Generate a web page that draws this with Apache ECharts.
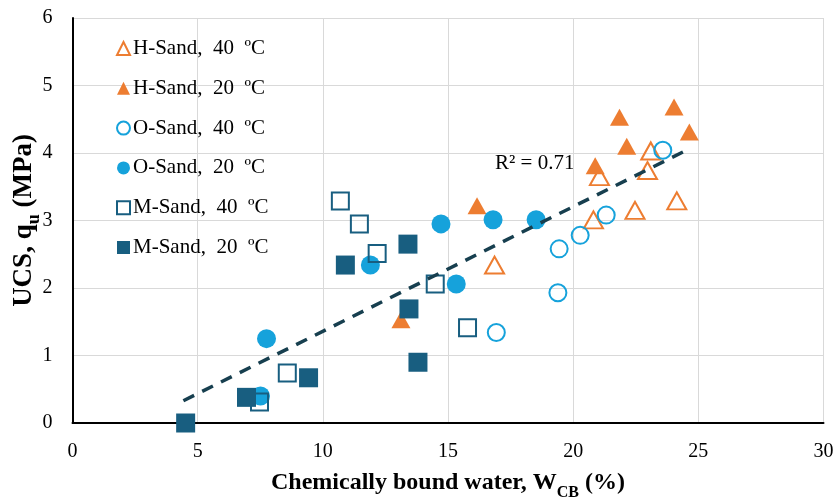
<!DOCTYPE html>
<html>
<head>
<meta charset="utf-8">
<script src="https://cdn.jsdelivr.net/npm/echarts@6/dist/echarts.min.js"></script>
<style>
html,body{margin:0;padding:0;background:#fff;}
#chart{width:837px;height:501px;}
</style>
</head>
<body>
<div id="chart"></div>
<script>
// ---- data ----
const hSand40X = [23.10, 22.97, 21.05, 24.14, 22.47, 20.81, 16.86];
const hSand40Y = [4.03, 3.74, 3.65, 3.29, 3.15, 3.01, 2.34];
const hSand20X = [21.85, 24.03, 24.64, 22.14, 20.88, 16.16, 13.12];
const hSand20Y = [4.53, 4.68, 4.31, 4.10, 3.81, 3.22, 1.53];
const oSand40X = [23.58, 21.32, 20.28, 19.44, 19.39, 16.93];
const oSand40Y = [4.04, 3.08, 2.78, 2.58, 1.93, 1.34];
const oSand20X = [14.72, 16.80, 18.52, 15.33, 11.90, 7.75, 7.51];
const oSand20Y = [2.95, 3.01, 3.01, 2.06, 2.34, 1.25, 0.40];
const mSand40X = [10.70, 11.46, 12.17, 14.49, 15.78, 8.58, 7.47];
const mSand40Y = [3.29, 2.95, 2.51, 2.06, 1.41, 0.74, 0.31];
const mSand20X = [10.90, 13.40, 13.44, 13.80, 9.43, 6.95, 4.52];
const mSand20Y = [2.34, 2.65, 1.69, 0.90, 0.67, 0.38, 0.00];
const trendX = [4.43, 24.47];
const trendY = [0.33, 4.03];
const seriesNames = ['H-Sand,  40  ºC', 'H-Sand,  20  ºC', 'O-Sand,  40  ºC', 'O-Sand,  20  ºC', 'M-Sand,  40  ºC', 'M-Sand,  20  ºC'];
const r2Text = 'R² = 0.71';

const zip = (xs, ys) => xs.map((x, i) => [x, ys[i]]);
const FONT = 'Liberation Serif';
const ORANGE = '#ED7D31';
const CYAN = '#16A2DB';
const TEAL = '#185E80';

function openSeries(name, data, symbol, size, color) {
  return {
    name, type: 'scatter', data, symbol, symbolSize: size,
    itemStyle: { color: 'rgba(255,255,255,0)', borderColor: color, borderWidth: 2, opacity: 1 },
    emphasis: { disabled: true }
  };
}
function filledSeries(name, data, symbol, size, color) {
  return {
    name, type: 'scatter', data, symbol, symbolSize: size,
    itemStyle: { color: color, borderWidth: 0, opacity: 1 },
    emphasis: { disabled: true }
  };
}

const chart = echarts.init(document.getElementById('chart'), null, { renderer: 'canvas' });
const option = {
  animation: false,
  backgroundColor: '#fff',
  grid: { left: 72.5, right: 13.5, top: 18, bottom: 78, containLabel: false, outerBoundsMode: 'none' },
  xAxis: {
    type: 'value', min: 0, max: 30, interval: 5,
    name: '{a|Chemically bound water, W}{s|CB}{a| (%)}',
    nameLocation: 'middle', nameGap: 45,
    nameTextStyle: {
      rich: {
        a: { fontFamily: FONT, fontSize: 24, fontWeight: 'bold', color: '#000', lineHeight: 30 },
        s: { fontFamily: FONT, fontSize: 16, fontWeight: 'bold', color: '#000', lineHeight: 16, verticalAlign: 'bottom', padding: [0, 0, -3, 0] }
      }
    },
    axisLine: { show: true, onZero: false, lineStyle: { color: '#000', width: 2 } },
    axisTick: { show: false },
    splitLine: { show: true, lineStyle: { color: '#D9D9D9', width: 1 } },
    axisLabel: { fontFamily: FONT, fontSize: 20, color: '#000', margin: 19 }
  },
  yAxis: {
    type: 'value', min: 0, max: 6, interval: 1,
    name: '{a|UCS, q}{s|u}{a| (MPa)}',
    nameLocation: 'middle', nameGap: 32, nameMoveOverlap: false,
    nameTextStyle: {
      rich: {
        a: { fontFamily: FONT, fontSize: 27, fontWeight: 'bold', color: '#000', lineHeight: 32 },
        s: { fontFamily: FONT, fontSize: 18, fontWeight: 'bold', color: '#000', lineHeight: 18, verticalAlign: 'bottom', padding: [0, 0, -3, 0] }
      }
    },
    axisLine: { show: true, onZero: false, lineStyle: { color: '#000', width: 2 } },
    axisTick: { show: false },
    splitLine: { show: true, lineStyle: { color: '#D9D9D9', width: 1 } },
    axisLabel: { fontFamily: FONT, fontSize: 20, color: '#000', margin: 20 }
  },
  legend: {
    orient: 'vertical', left: 111, top: 33,
    itemWidth: 13, itemHeight: 13, itemGap: 18.8,
    textStyle: { fontFamily: FONT, fontSize: 21, color: '#000', lineHeight: 20, padding: [0, 0, 0, -2] },
    data: seriesNames,
    selectedMode: false
  },
  series: [
    openSeries(seriesNames[0], zip(hSand40X, hSand40Y), 'triangle', [19, 17], ORANGE),
    filledSeries(seriesNames[1], zip(hSand20X, hSand20Y), 'triangle', [19, 17], ORANGE),
    openSeries(seriesNames[2], zip(oSand40X, oSand40Y), 'circle', 17, CYAN),
    filledSeries(seriesNames[3], zip(oSand20X, oSand20Y), 'circle', 19, CYAN),
    openSeries(seriesNames[4], zip(mSand40X, mSand40Y), 'rect', 17, TEAL),
    filledSeries(seriesNames[5], zip(mSand20X, mSand20Y), 'rect', 19, TEAL),
    {
      name: 'trend', type: 'line', data: zip(trendX, trendY),
      symbol: 'none', silent: true, z: 5,
      lineStyle: { color: '#173F4F', width: 3.5, type: [12, 9] }
    }
  ],
  graphic: [{
    type: 'text', left: 495, top: 153, silent: true,
    style: { text: r2Text, fontFamily: FONT, fontSize: 21, fill: '#000' }
  }]
};
chart.setOption(option);
</script>
</body>
</html>
